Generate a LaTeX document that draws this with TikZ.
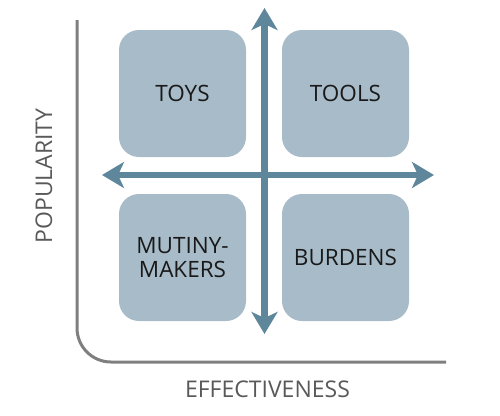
\documentclass[tikz,border=0pt]{standalone}
\usepackage{fontspec}
\setmainfont{Open Sans}
\usetikzlibrary{arrows.meta}
\definecolor{quadfill}{HTML}{A7BBC8}
\definecolor{quadarrow}{HTML}{5E879C}
\definecolor{axisgray}{HTML}{7F7F7F}
\definecolor{labelgray}{HTML}{595959}

\begin{document}
\begin{tikzpicture}[x=1pt,y=-1pt,
  quad/.style={fill=quadfill,rounded corners=20pt,minimum width=127pt,minimum height=127pt,
    inner sep=0pt,align=center,font=\fontsize{22.5}{24}\selectfont,text=black!90},
  cross/.style={quadarrow,line width=6.5pt,{Stealth[length=22pt,width=26pt,inset=6pt]}-{Stealth[length=22pt,width=26pt,inset=6pt]}},
  axislbl/.style={text=labelgray,font=\fontsize{23}{24}\selectfont}]
\useasboundingbox (0,0) rectangle (500,415);
% axis
\draw[axisgray,line width=3pt,rounded corners=34pt] (77,20) |- (446,362);
\node[axislbl,rotate=90] (pop) at (44,176) {POPULARITY};
\node[axislbl] (eff) at (267.5,389) {EFFECTIVENESS};
% quadrants
\node[quad] (toys) at (182.5,93.5) {TOYS};
\node[quad] (tools) at (345.5,93.5) {TOOLS};
\node[quad] (mutiny) at (182.5,257.5) {MUTINY-\\MAKERS};
\node[quad] (burdens) at (345.5,257.5) {BURDENS};
% arrows
\coordinate (up) at (264.5,8);
\coordinate (down) at (264.5,334);
\coordinate (left) at (102,175);
\coordinate (right) at (434,175);
\draw[cross] (down) -- (up);
\draw[cross] (left) -- (right);
\end{tikzpicture}
\end{document}
